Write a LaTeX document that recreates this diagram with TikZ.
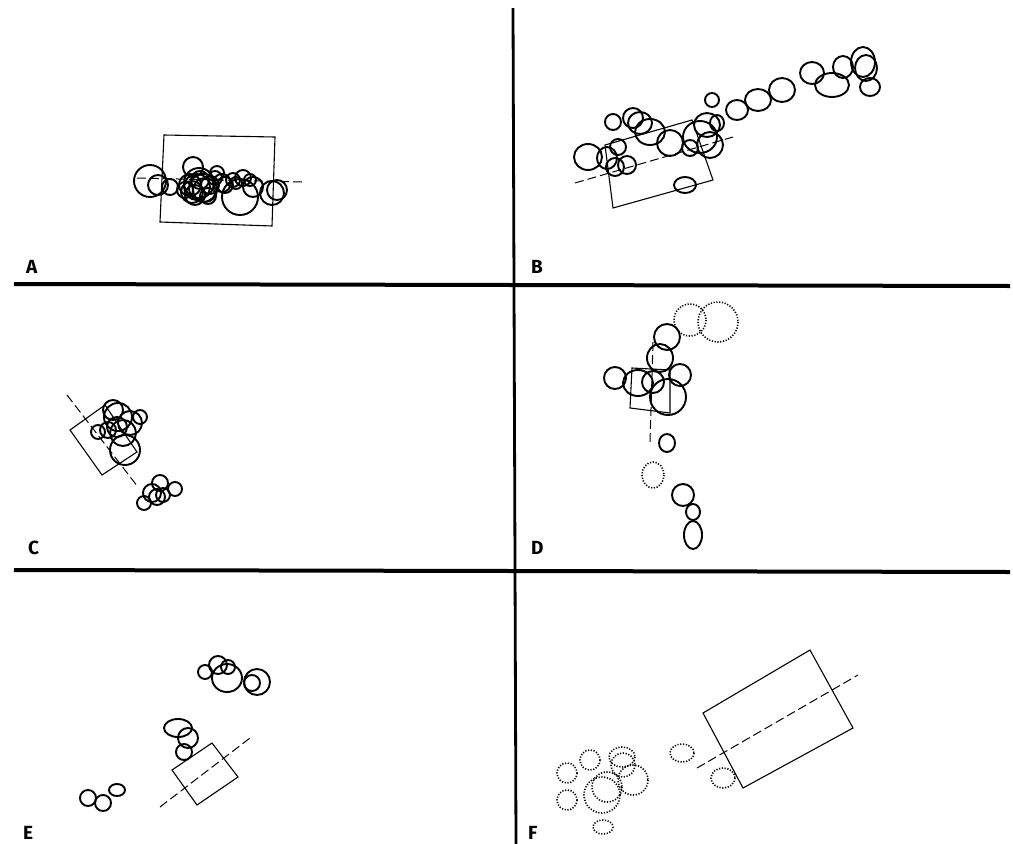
\documentclass[tikz,border=0pt]{standalone}
\usepackage{fontspec}
\setsansfont{Fira Sans}
\begin{document}
\begin{tikzpicture}[x=1pt,y=-1pt,
  divider/.style={line width=4pt},
  cell/.style={line width=1.9pt},
  dotcell/.style={line width=1.6pt, dash pattern=on 1.2pt off 1.6pt},
  frame/.style={line width=1.1pt},
  axis/.style={line width=1pt, dash pattern=on 9pt off 4pt},
  panel/.style={font=\sffamily\bfseries\fontsize{19}{19}\selectfont, anchor=base west, inner sep=0pt}]
\useasboundingbox (0,0) rectangle (1013,844);
% dividers
\draw[divider] (14,284) -- (1010,286);
\draw[divider] (14,570) -- (1010,572);
\draw[line width=2.8pt] (513,8) -- (516,844);
% labels
\node[panel] (lA) at (26,273) {A};
\node[panel] (lB) at (531,273) {B};
\node[panel] (lC) at (28,554) {C};
\node[panel] (lD) at (531,554) {D};
\node[panel] (lE) at (23,839) {E};
\node[panel] (lF) at (528,839) {F};

% ---------- Panel A ----------
\draw[frame] (164,135) -- (275,137) -- (272,226) -- (160,222) -- cycle;
\draw[axis] (137,178) -- (302,182);
\foreach \x/\y/\r in {150/181/16, 158/185/10, 170/187/8, 193/167/10, 190/185/11, 197/187/13,
  200/180/9, 205/190/12, 195/195/10, 210/185/9, 185/190/8, 215/178/7, 217/173/7, 208/196/8,
  199/183/15, 203/188/14, 192/192/11, 222/183/9,
  225/185/8, 233/180/7, 240/197/18, 243/178/8, 236/183/6, 253/187/10, 250/180/6, 272/193/12, 277/190/10}
  \draw[cell] (\x,\y) circle (\r);

% ---------- Panel B ----------
\draw[frame] (605,145) -- (692,120) -- (713,180) -- (613,208) -- cycle;
\draw[axis] (575,183) -- (733,137);
\foreach \x/\y/\a/\b in {588/157/14/13, 607/158/10/11, 618/147/8/8, 615/167/9/9, 627/165/9/9,
  613/122/8/8, 633/118/10/10, 640/123/12/11, 650/132/15/13, 670/143/13/13, 690/148/8/8,
  700/137/17/16, 710/145/13/13, 707/125/13/12, 717/123/7/8, 712/100/7/7, 737/110/11/10,
  758/100/13/11, 782/90/13/12, 812/73/12/11, 832/85/17/12, 843/67/10/11, 863/62/12/15,
  866/68/11/13, 870/87/10/9, 685/185/11/8}
  \draw[cell] (\x,\y) ellipse [x radius=\a, y radius=\b];

% ---------- Panel C ----------
\draw[frame] (70,430) -- (105,405) -- (137,452) -- (102,475) -- cycle;
\draw[axis] (67,395) -- (138,487);
\foreach \x/\y/\r in {118/417/14, 113/410/10, 130/423/12, 140/417/7, 98/432/7, 125/450/15,
  123/433/13, 108/430/8, 117/427/10, 160/483/8, 175/489/7, 144/503/7, 152/493/9, 157/497/8, 163/495/7}
  \draw[cell] (\x,\y) circle (\r);

% ---------- Panel D ----------
\draw[frame] (632,368) -- (670,370) -- (670,413) -- (630,408) -- cycle;
\draw[axis] (653,342) -- (650,442);
\foreach \x/\y/\a/\b in {667/337/13/13, 660/358/13/14, 615/378/11/11, 638/383/15/13,
  653/382/11/11, 680/375/11/11, 668/397/18/18, 667/443/8/9, 683/495/11/11, 693/512/7/8, 693/535/9/14}
  \draw[cell] (\x,\y) ellipse [x radius=\a, y radius=\b];
\foreach \x/\y/\a/\b in {690/320/16/16, 718/322/20/20, 653/475/11/13}
  \draw[dotcell] (\x,\y) ellipse [x radius=\a, y radius=\b];

% ---------- Panel E ----------
\draw[frame] (172,770) -- (212,743) -- (238,777) -- (197,805) -- cycle;
\draw[axis] (160,807) -- (250,738);
\foreach \x/\y/\a/\b in {205/672/7/7, 218/665/9/9, 228/667/7/7, 227/678/15/14, 257/682/13/13,
  252/683/8/8, 178/728/14/9, 188/738/10/10, 184/752/8/8, 88/798/8/8, 103/803/8/8, 117/790/8/6}
  \draw[cell] (\x,\y) ellipse [x radius=\a, y radius=\b];

% ---------- Panel F ----------
\draw[frame] (703,713) -- (810,650) -- (853,728) -- (743,788) -- cycle;
\draw[axis] (697,768) -- (858,675);
\foreach \x/\y/\a/\b in {590/760/10/10, 567/773/10/10, 622/757/13/10, 623/765/12/12,
  633/780/15/15, 602/795/18/18, 607/787/15/15, 567/800/10/10, 603/827/10/7, 682/753/12/9, 723/778/12/10}
  \draw[dotcell] (\x,\y) ellipse [x radius=\a, y radius=\b];
\end{tikzpicture}
\end{document}
